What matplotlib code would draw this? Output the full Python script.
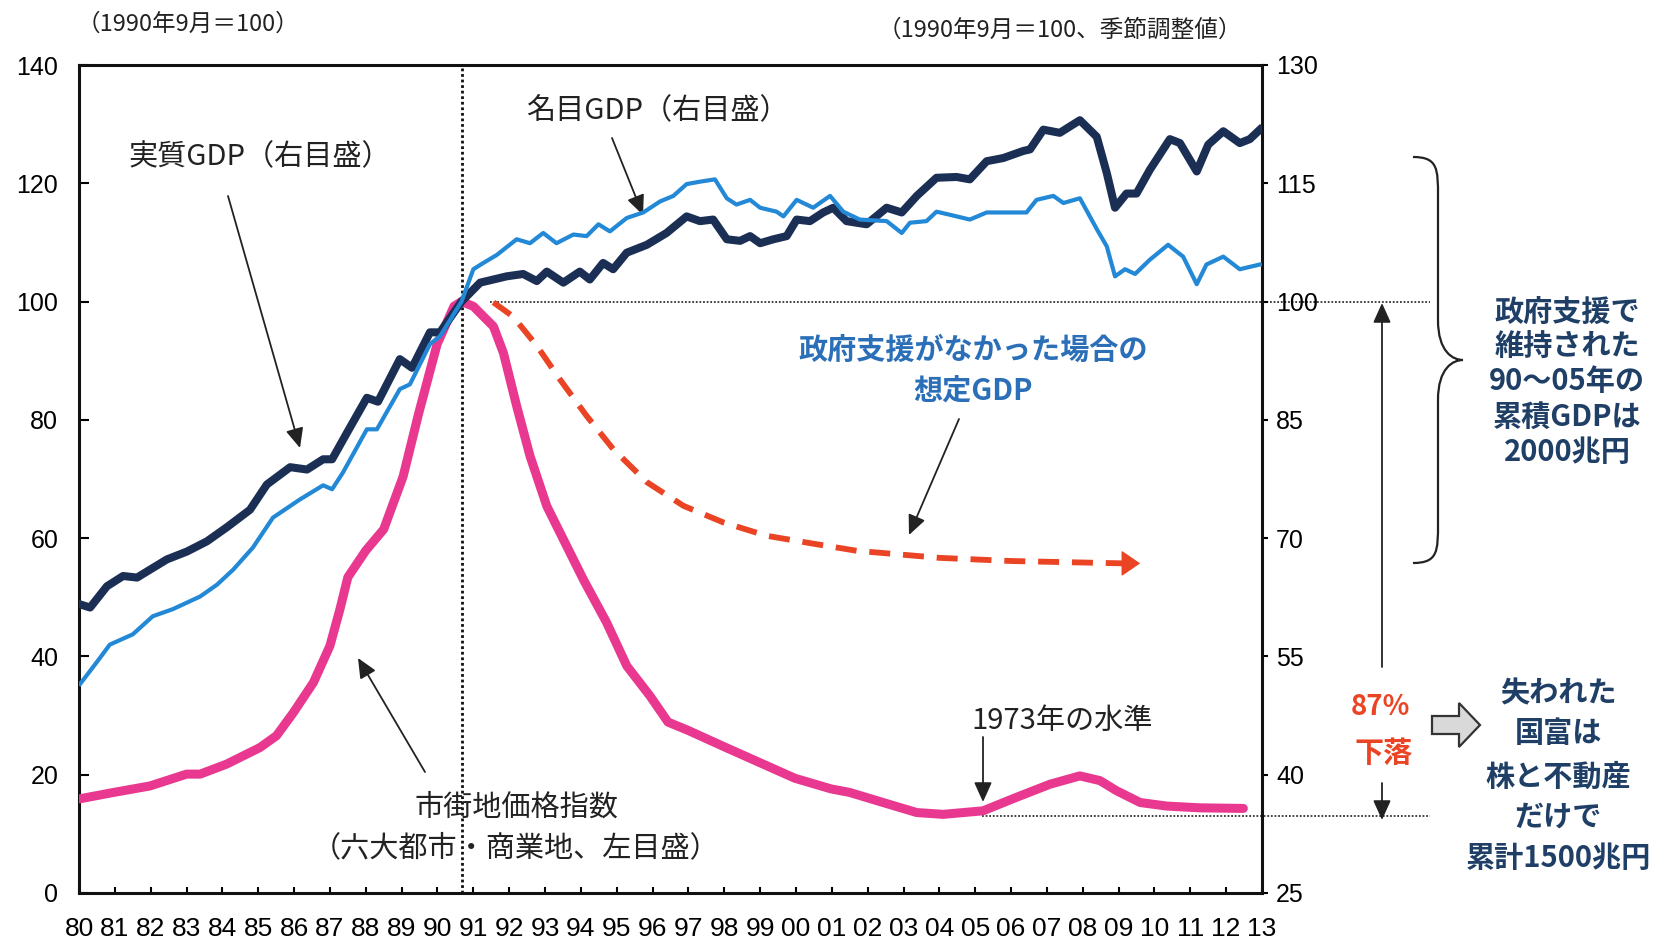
import matplotlib
matplotlib.use("Agg")
import matplotlib.pyplot as plt
from matplotlib.path import Path
from matplotlib.patches import PathPatch, FancyArrow
from matplotlib.transforms import IdentityTransform

# ---------------------------------------------------------------
# Data
# ---------------------------------------------------------------
# 実質GDP (right axis, 1990年9月=100)
real_years = [1980.03, 1980.31, 1980.78, 1981.23, 1981.62, 1981.98, 1982.45, 1983.01,
              1983.57, 1984.13, 1984.77, 1985.24, 1985.89, 1986.36, 1986.81, 1987.06,
              1987.48, 1988.03, 1988.34, 1988.95, 1989.29, 1989.79, 1990.07, 1990.67,
              1991.19, 1991.93, 1992.39, 1992.77, 1993.05, 1993.51, 1993.97, 1994.25,
              1994.62, 1994.90, 1995.28, 1995.84, 1996.39, 1996.95, 1997.32, 1997.69,
              1998.07, 1998.44, 1998.72, 1999.00, 1999.37, 1999.74, 2000.02, 2000.39,
              2000.76, 2001.04, 2001.41, 2001.97, 2002.53, 2002.95, 2003.37, 2003.92,
              2004.48, 2004.85, 2005.32, 2005.78, 2006.34, 2006.53, 2006.90, 2007.36,
              2007.92, 2008.39, 2008.67, 2008.90, 2009.22, 2009.50, 2009.87, 2010.43,
              2010.71, 2011.18, 2011.50, 2011.92, 2012.38, 2012.66, 2012.94]
real_gdp = [61.6, 61.2, 63.9, 65.2, 65.0, 66.0, 67.3, 68.3,
            69.6, 71.4, 73.6, 76.8, 79.0, 78.7, 80.0, 80.0,
            83.4, 87.8, 87.3, 92.7, 91.6, 96.1, 96.1, 100.0,
            102.4, 103.2, 103.5, 102.6, 103.8, 102.4, 103.8, 102.8,
            104.9, 104.1, 106.2, 107.2, 108.7, 110.8, 110.2, 110.4,
            107.9, 107.7, 108.3, 107.4, 107.9, 108.3, 110.4, 110.2,
            111.3, 111.9, 110.2, 109.8, 111.9, 111.3, 113.4, 115.7,
            115.8, 115.5, 117.8, 118.2, 119.1, 119.3, 121.8, 121.4,
            123.0, 120.9, 116.3, 111.9, 113.7, 113.7, 116.7, 120.6,
            120.1, 116.5, 119.9, 121.6, 120.1, 120.6, 121.8]

# 名目GDP (right axis)
nominal_years = [1980.03, 1980.50, 1980.86, 1981.50, 1982.06, 1982.62, 1983.38, 1983.85,
                 1984.30, 1984.85, 1985.41, 1986.16, 1986.81, 1987.06, 1987.36, 1988.03,
                 1988.31, 1988.95, 1989.23, 1989.79, 1990.07, 1990.67, 1991.00, 1991.28,
                 1991.65, 1992.21, 1992.58, 1992.95, 1993.32, 1993.79, 1994.16, 1994.49,
                 1994.81, 1995.28, 1995.74, 1996.21, 1996.58, 1996.95, 1997.32, 1997.74,
                 1998.07, 1998.34, 1998.72, 1999.00, 1999.46, 1999.65, 2000.02, 2000.48,
                 2000.95, 2001.32, 2001.78, 2002.53, 2002.95, 2003.18, 2003.64, 2003.92,
                 2004.30, 2004.85, 2005.32, 2005.78, 2006.43, 2006.71, 2007.18, 2007.46,
                 2007.92, 2008.39, 2008.67, 2008.90, 2009.18, 2009.46, 2009.87, 2010.38,
                 2010.80, 2011.18, 2011.45, 2011.92, 2012.38, 2012.94]
nominal_gdp = [51.5, 54.3, 56.5, 57.8, 60.1, 61.0, 62.6, 64.1,
               66.0, 68.8, 72.6, 74.9, 76.7, 76.2, 78.3, 83.8,
               83.8, 88.9, 89.5, 94.6, 95.6, 100.0, 104.1, 104.9,
               105.9, 107.9, 107.4, 108.7, 107.4, 108.5, 108.3, 109.8,
               108.9, 110.6, 111.3, 112.7, 113.4, 114.9, 115.2, 115.5,
               113.1, 112.3, 112.9, 111.9, 111.4, 110.8, 112.9, 111.9,
               113.4, 111.4, 110.4, 110.2, 108.7, 110.0, 110.2, 111.4,
               111.0, 110.4, 111.3, 111.3, 111.3, 112.9, 113.4, 112.5,
               113.1, 109.2, 107.0, 103.2, 104.1, 103.5, 105.3, 107.2,
               105.7, 102.2, 104.7, 105.7, 104.1, 104.7]

# 市街地価格指数 (left axis)
land_years = [1980.00, 1980.96, 1981.98, 1983.00, 1983.38, 1984.12, 1985.05, 1985.51,
              1985.98, 1986.54, 1987.00, 1987.28, 1987.50, 1988.00, 1988.50, 1989.04,
              1989.48, 1989.99, 1990.46, 1990.67, 1991.00, 1991.56, 1991.84, 1992.21,
              1992.58, 1993.05, 1993.51, 1994.07, 1994.72, 1995.28, 1995.93, 1996.43,
              1996.99, 1997.97, 1998.97, 1999.97, 2000.98, 2001.50, 2002.43, 2003.37,
              2004.11, 2005.22, 2006.16, 2007.09, 2007.92, 2008.48, 2008.94, 2009.60,
              2010.34, 2011.27, 2012.48]
land_price = [15.9, 17.0, 18.1, 20.1, 20.1, 21.8, 24.6, 26.6,
              30.5, 35.6, 41.8, 48.0, 53.4, 57.9, 61.5, 70.4,
              81.2, 92.8, 99.2, 100.0, 99.2, 95.8, 91.3, 82.3,
              73.9, 65.4, 59.8, 53.0, 45.7, 38.4, 33.3, 28.9,
              27.5, 24.8, 22.1, 19.4, 17.6, 17.0, 15.3, 13.6,
              13.3, 13.9, 16.2, 18.4, 19.8, 19.0, 17.3, 15.3,
              14.7, 14.4, 14.3]

# 政府支援がなかった場合の想定GDP (right axis)
assumed_years = [1991.56, 1992.11, 1992.77, 1993.42, 1994.16, 1994.90, 1995.84, 1996.86,
                 1997.97, 1999.18, 2000.48, 2001.69, 2004.00, 2006.00, 2009.15]
assumed_gdp = [99.9, 98.1, 94.4, 90.1, 85.5, 81.3, 77.1, 74.1,
               72.0, 70.3, 69.3, 68.4, 67.5, 67.1, 66.8]
assumed_tip = 2009.6

base_date = 1990.67        # 1990年9月
peak_level = 100           # left axis
level_1973 = 13            # left axis (87% decline)
ref_end = 2017.7

year_ticks = list(range(1980, 2014))
year_labels = [f"{y % 100:02d}" for y in year_ticks]
left_ticks = [0, 20, 40, 60, 80, 100, 120, 140]
right_ticks = [25, 40, 55, 70, 85, 100, 115, 130]

# ---------------------------------------------------------------
# Style
# ---------------------------------------------------------------
W, H = 1662, 944
JP = ["Noto Sans CJK JP", "DejaVu Sans"]
NUM = ["Liberation Sans", "DejaVu Sans"]
plt.rcParams["font.family"] = NUM

C_REAL = "#1b2f55"
C_NOMINAL = "#2389d6"
C_LAND = "#e8388f"
C_ASSUMED = "#ea4424"
C_NOTE_BLUE = "#2b6fb8"
C_NAVY = "#1f3f66"

fig = plt.figure(figsize=(W / 100, H / 100), dpi=100)
fig.patch.set_facecolor("white")
ax = fig.add_axes([79 / W, 1 - 893 / H, (1262 - 79) / W, (893 - 65) / H])
ax2 = ax.twinx()

# land price on the left axis
ax.plot(land_years, land_price, color=C_LAND, lw=6.5, solid_capstyle="round",
        solid_joinstyle="round", zorder=3)
ax.axvline(base_date, color="#111", ls=(0, (1, 1)), lw=2, zorder=2)
ax.plot([1991.46, ref_end], [peak_level, peak_level], color="#333",
        ls=(0, (1, 1)), lw=1.3, clip_on=False, zorder=2)
ax.plot([2005.2, ref_end], [level_1973, level_1973], color="#333",
        ls=(0, (1, 1)), lw=1.3, clip_on=False, zorder=2)

# GDP on the right axis
ax2.plot(real_years, real_gdp, color=C_REAL, lw=5.8, solid_joinstyle="round", zorder=3)
ax2.plot(nominal_years, nominal_gdp, color=C_NOMINAL, lw=3.0, solid_joinstyle="round", zorder=4)
ax2.plot(assumed_years, assumed_gdp, color=C_ASSUMED, lw=4.2, dashes=(3.6, 2.2), zorder=3)
ax2.annotate("", xy=(assumed_tip, assumed_gdp[-1]), xytext=(assumed_years[-1], assumed_gdp[-1]),
             arrowprops=dict(arrowstyle="-|>,head_length=0.8,head_width=0.55",
                             color=C_ASSUMED, lw=1, mutation_scale=15,
                             shrinkA=0, shrinkB=0))

ax.set_xlim(1980, 2013)
ax.set_ylim(0, 140)
ax2.set_ylim(25, 130)

ax.set_xticks(year_ticks)
ax.set_xticklabels(year_labels)
ax.set_yticks(left_ticks)
ax2.set_yticks(right_ticks)
ax.tick_params(axis="x", direction="in", length=4, width=1.5, pad=17, labelsize=19)
ax.tick_params(axis="y", direction="in", length=7, width=1.5, pad=15, labelsize=18)
ax2.tick_params(axis="y", direction="out", length=4, width=1.5, pad=6, labelsize=18)

for name, sp in ax.spines.items():
    sp.set_linewidth(2.2)
    sp.set_color("#111")
ax.spines["right"].set_visible(False)
for name, sp in ax2.spines.items():
    sp.set_visible(name == "right")
    sp.set_linewidth(2.2)
    sp.set_color("#111")


# ---------------------------------------------------------------
# Annotations (positions in pixels from the top-left corner)
# ---------------------------------------------------------------
def fpx(x, y):
    return (x, H - y)


def label(x, y, s, size=21, color="#222", weight="normal"):
    fig.text(x / W, 1 - y / H, s, ha="center", va="center", fontsize=size,
             color=color, fontweight=weight, family=JP)


def arrow(start, tip, lw=1.3, scale=12):
    ax.annotate("", xy=fpx(*tip), xycoords="figure pixels",
                xytext=fpx(*start), textcoords="figure pixels",
                arrowprops=dict(arrowstyle="-|>,head_length=1.0,head_width=0.45",
                                color="#222", lw=lw, mutation_scale=scale,
                                shrinkA=0, shrinkB=0))


label(188, 24, "（1990年9月＝100）", size=17)
label(1060, 30, "（1990年9月＝100、季節調整値）", size=17)

label(260, 157, "実質GDP（右目盛）")
arrow((228, 196), (300, 448))
label(657, 111, "名目GDP（右目盛）")
arrow((612, 138), (643, 215))
label(973, 350, "政府支援がなかった場合の", size=21, color=C_NOTE_BLUE, weight="bold")
label(973, 392, "想定GDP", size=21, color=C_NOTE_BLUE, weight="bold")
arrow((959, 419), (909, 535))
label(1062, 721, "1973年の水準")
arrow((983, 737), (983, 802))
label(516, 808, "市街地価格指数")
label(516, 848, "（六大都市・商業地、左目盛）")
arrow((425, 772), (358, 658))

# 87% drop marker
arrow((1382, 667), (1382, 303))
arrow((1382, 783), (1382, 820))
label(1380, 707, "87%", size=20, color=C_ASSUMED, weight="bold")
label(1384, 753, "下落", size=21, color=C_ASSUMED, weight="bold")

# curly brace
bx0, bx1, btip = 1413, 1438, 1463
by0, bmid, by1 = 157, 360, 563
verts = [fpx(bx0, by0),
         fpx(bx1, by0), fpx(bx1, by0 + 12), fpx(bx1, by0 + 40),
         fpx(bx1, bmid - 40),
         fpx(bx1, bmid - 8), fpx(btip - 10, bmid), fpx(btip, bmid),
         fpx(btip - 10, bmid), fpx(bx1, bmid + 8), fpx(bx1, bmid + 40),
         fpx(bx1, by1 - 40),
         fpx(bx1, by1 - 12), fpx(bx1, by1), fpx(bx0, by1)]
codes = [Path.MOVETO, Path.CURVE4, Path.CURVE4, Path.CURVE4, Path.LINETO,
         Path.CURVE4, Path.CURVE4, Path.CURVE4, Path.CURVE4, Path.CURVE4, Path.CURVE4,
         Path.LINETO, Path.CURVE4, Path.CURVE4, Path.CURVE4]
fig.patches.append(PathPatch(Path(verts, codes), transform=IdentityTransform(),
                             fill=False, lw=1.6, ec="#222", figure=fig))

for yy, s in zip([312, 346, 381, 417, 452],
                 ["政府支援で", "維持された", "90～05年の", "累積GDPは", "2000兆円"]):
    label(1567, yy, s, size=21, color=C_NAVY, weight="bold")

# hollow arrow
fig.patches.append(FancyArrow(1432, H - 725, 48, 0, width=18, head_width=44, head_length=21,
                              length_includes_head=True, fc="#d9d9d9", ec="#333", lw=1.6,
                              transform=IdentityTransform(), figure=fig))

for yy, s in zip([693, 733, 777, 817, 858],
                 ["失われた", "国富は", "株と不動産", "だけで", "累計1500兆円"]):
    label(1558, yy, s, size=21, color=C_NAVY, weight="bold")

fig.savefig("out.png", dpi=100)
